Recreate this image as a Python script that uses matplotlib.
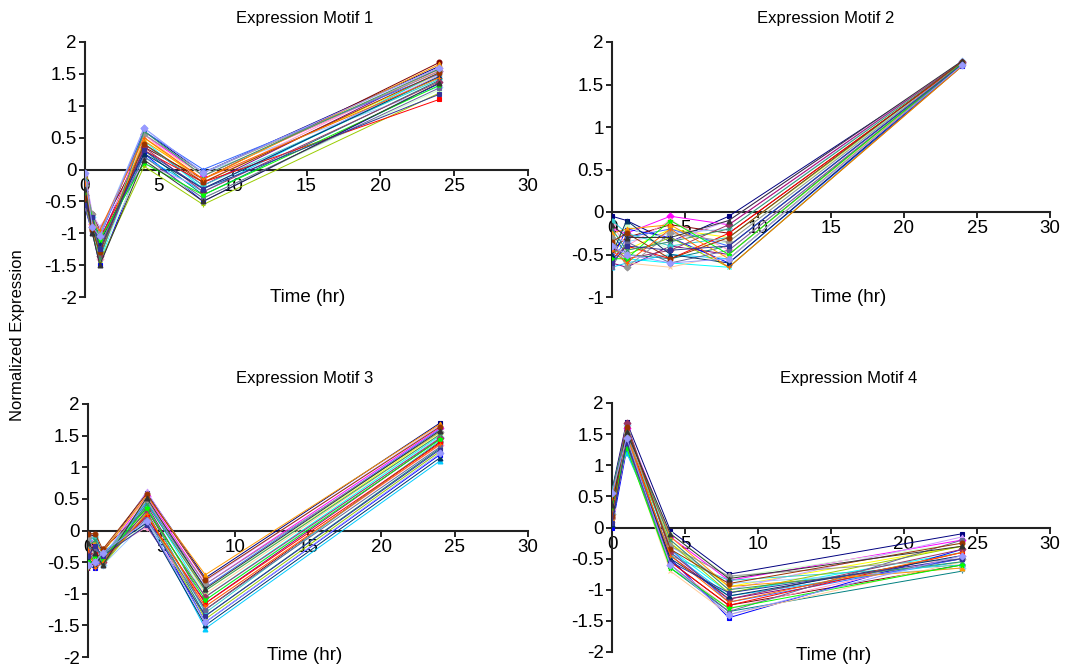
import matplotlib
matplotlib.use("Agg")
import matplotlib.pyplot as plt
from matplotlib.ticker import FuncFormatter

plt.rcParams['font.family'] = ['Liberation Sans', 'DejaVu Sans']

# sampling times (hr)
times_a = [0, 0.5, 1, 4, 8, 24]
times_b = [0, 1, 4, 8, 24]

# motif 1: dip early, peak at 4 h, dip at 8 h, rise by 24 h
motif1 = [
    [-0.10, -0.75, -1.05, 0.60, -0.05, 1.62],
    [-0.20, -0.85, -1.20, 0.55, -0.10, 1.55],
    [-0.35, -0.90, -1.30, 0.50, -0.20, 1.50],
    [-0.50, -0.95, -1.45, 0.45, -0.30, 1.45],
    [-0.55, -0.80, -1.10, 0.40, -0.25, 1.58],
    [-0.45, -0.70, -0.95, 0.35, -0.15, 1.68],
    [-0.30, -0.95, -1.25, 0.30, -0.40, 1.40],
    [-0.60, -1.00, -1.50, 0.25, -0.50, 1.35],
    [-0.15, -0.85, -1.15, 0.20, -0.35, 1.52],
    [-0.40, -0.75, -1.00, 0.65, -0.05, 1.30],
    [-0.25, -0.90, -1.35, 0.15, -0.45, 1.25],
    [-0.50, -0.85, -1.40, 0.55, -0.20, 1.60],
    [-0.05, -0.70, -0.90, 0.10, -0.30, 1.48],
    [-0.35, -0.95, -1.20, 0.50, -0.10, 1.56],
    [-0.45, -0.80, -1.05, 0.60, 0.00, 1.50],
    [-0.20, -0.75, -1.30, 0.40, -0.25, 1.42],
    [-0.55, -1.00, -1.45, 0.05, -0.55, 1.20],
    [-0.30, -0.85, -1.10, 0.30, -0.20, 1.10],
    [-0.10, -0.80, -1.25, 0.45, -0.15, 1.65],
    [-0.40, -0.90, -1.35, 0.35, -0.35, 1.38],
    [-0.60, -0.95, -1.20, 0.20, -0.45, 1.28],
    [-0.25, -0.70, -1.00, 0.55, -0.05, 1.54],
    [-0.50, -0.90, -1.15, 0.25, -0.30, 1.46],
    [-0.15, -0.80, -1.40, 0.60, -0.10, 1.58],
    [-0.35, -0.75, -1.10, 0.10, -0.40, 1.32],
    [-0.45, -0.95, -1.30, 0.40, -0.20, 1.52],
    [-0.20, -0.85, -0.95, 0.50, -0.15, 1.44],
    [-0.55, -0.75, -1.25, 0.30, -0.30, 1.18],
    [-0.30, -1.00, -1.50, 0.15, -0.50, 1.36],
    [-0.05, -0.90, -1.05, 0.65, -0.05, 1.60],
]

# motif 2: flat and low until 8 h, then all up to ~1.75
motif2 = [
    [-0.05, -0.10, -0.35, -0.05, 1.75],
    [-0.20, -0.25, -0.05, -0.15, 1.77],
    [-0.35, -0.45, -0.20, -0.30, 1.74],
    [-0.50, -0.55, -0.60, -0.65, 1.73],
    [-0.60, -0.65, -0.40, -0.50, 1.76],
    [-0.45, -0.30, -0.15, -0.25, 1.75],
    [-0.25, -0.50, -0.55, -0.40, 1.74],
    [-0.55, -0.20, -0.30, -0.60, 1.72],
    [-0.65, -0.60, -0.50, -0.55, 1.75],
    [-0.30, -0.35, -0.25, -0.20, 1.78],
    [-0.40, -0.15, -0.45, -0.35, 1.76],
    [-0.15, -0.40, -0.10, -0.45, 1.74],
    [-0.50, -0.45, -0.35, -0.10, 1.77],
    [-0.35, -0.60, -0.65, -0.50, 1.73],
    [-0.60, -0.30, -0.20, -0.40, 1.75],
    [-0.10, -0.25, -0.40, -0.30, 1.76],
    [-0.45, -0.50, -0.30, -0.65, 1.72],
    [-0.55, -0.40, -0.55, -0.25, 1.75],
    [-0.25, -0.20, -0.15, -0.55, 1.74],
    [-0.40, -0.55, -0.45, -0.15, 1.77],
    [-0.65, -0.35, -0.60, -0.45, 1.73],
    [-0.30, -0.65, -0.25, -0.35, 1.75],
    [-0.50, -0.10, -0.50, -0.60, 1.74],
    [-0.20, -0.45, -0.35, -0.20, 1.76],
    [-0.55, -0.55, -0.10, -0.50, 1.75],
    [-0.35, -0.25, -0.55, -0.30, 1.77],
    [-0.45, -0.60, -0.20, -0.65, 1.72],
    [-0.60, -0.40, -0.45, -0.40, 1.74],
    [-0.15, -0.30, -0.30, -0.10, 1.78],
    [-0.40, -0.50, -0.60, -0.55, 1.73],
]

# motif 3: small peak at 4 h, deep dip at 8 h, rise by 24 h
motif3 = [
    [-0.05, -0.10, -0.35, 0.60, -0.75, 1.70],
    [-0.15, -0.30, -0.45, 0.55, -0.85, 1.62],
    [-0.30, -0.45, -0.50, 0.50, -0.95, 1.55],
    [-0.50, -0.55, -0.40, 0.45, -1.05, 1.50],
    [-0.60, -0.50, -0.55, 0.40, -1.15, 1.45],
    [-0.40, -0.20, -0.30, 0.35, -1.25, 1.40],
    [-0.20, -0.35, -0.45, 0.30, -1.35, 1.30],
    [-0.55, -0.60, -0.50, 0.25, -1.45, 1.20],
    [-0.10, -0.15, -0.35, 0.20, -1.55, 1.10],
    [-0.35, -0.40, -0.55, 0.15, -1.10, 1.48],
    [-0.45, -0.30, -0.40, 0.10, -0.95, 1.58],
    [-0.25, -0.50, -0.35, 0.05, -1.20, 1.35],
    [-0.05, -0.25, -0.45, 0.62, -0.80, 1.66],
    [-0.50, -0.45, -0.30, 0.50, -1.00, 1.52],
    [-0.30, -0.55, -0.50, 0.45, -0.90, 1.60],
    [-0.15, -0.10, -0.40, 0.38, -1.30, 1.42],
    [-0.60, -0.40, -0.55, 0.28, -1.40, 1.25],
    [-0.40, -0.35, -0.45, 0.22, -1.15, 1.38],
    [-0.20, -0.20, -0.35, 0.55, -0.70, 1.68],
    [-0.35, -0.50, -0.50, 0.32, -1.05, 1.46],
    [-0.55, -0.30, -0.40, 0.18, -1.25, 1.32],
    [-0.10, -0.45, -0.45, 0.48, -0.85, 1.56],
    [-0.45, -0.55, -0.35, 0.12, -1.50, 1.15],
    [-0.25, -0.15, -0.55, 0.42, -0.95, 1.52],
    [-0.50, -0.40, -0.45, 0.35, -1.10, 1.44],
    [-0.05, -0.05, -0.30, 0.58, -0.78, 1.64],
    [-0.30, -0.60, -0.50, 0.26, -1.20, 1.36],
    [-0.40, -0.25, -0.40, 0.08, -1.35, 1.28],
    [-0.20, -0.35, -0.55, 0.52, -0.92, 1.58],
    [-0.55, -0.50, -0.35, 0.15, -1.45, 1.22],
]

# motif 4: early spike at 1 h, then down and slow recovery
motif4 = [
    [0.60, 1.70, -0.05, -0.75, -0.10],
    [0.50, 1.60, -0.15, -0.85, -0.20],
    [0.45, 1.55, -0.25, -0.95, -0.30],
    [0.35, 1.50, -0.35, -1.05, -0.40],
    [0.25, 1.45, -0.45, -1.15, -0.50],
    [0.15, 1.40, -0.55, -1.25, -0.60],
    [0.05, 1.35, -0.65, -1.35, -0.70],
    [0.00, 1.25, -0.50, -1.45, -0.35],
    [0.62, 1.20, -0.40, -1.10, -0.55],
    [0.40, 1.65, -0.30, -0.90, -0.65],
    [0.55, 1.50, -0.10, -0.80, -0.25],
    [0.30, 1.42, -0.60, -1.30, -0.45],
    [0.20, 1.58, -0.20, -1.00, -0.15],
    [0.10, 1.30, -0.70, -1.40, -0.55],
    [0.48, 1.62, -0.35, -1.20, -0.50],
    [0.38, 1.48, -0.45, -0.85, -0.60],
    [0.58, 1.38, -0.25, -1.05, -0.30],
    [0.28, 1.55, -0.55, -1.25, -0.40],
    [0.12, 1.45, -0.15, -0.95, -0.65],
    [0.52, 1.68, -0.40, -1.15, -0.35],
    [0.42, 1.32, -0.60, -1.35, -0.20],
    [0.22, 1.52, -0.30, -0.78, -0.50],
    [0.05, 1.40, -0.50, -1.10, -0.45],
    [0.60, 1.57, -0.20, -1.00, -0.55],
    [0.32, 1.28, -0.65, -1.30, -0.60],
    [0.18, 1.62, -0.35, -0.90, -0.25],
    [0.45, 1.46, -0.45, -1.20, -0.40],
    [0.08, 1.36, -0.55, -1.05, -0.50],
    [0.36, 1.53, -0.10, -0.82, -0.30],
    [0.55, 1.44, -0.60, -1.40, -0.45],
]

# spreadsheet-style series colours and markers
colors = ["#000080", "#FF00FF", "#FFFF00", "#00FFFF", "#800080", "#800000",
          "#008080", "#0000FF", "#00CCFF", "#99CCFF", "#CCFFCC", "#FF99CC",
          "#CC99FF", "#FFCC99", "#3366FF", "#33CCCC", "#99CC00", "#FF0000",
          "#FF9900", "#993366", "#666699", "#969696", "#003366", "#339966",
          "#00FF00", "#993300", "#FF6600", "#333399", "#333333", "#9999FF"]
markers = ["s", "D", "^", "x", "*", "o", "+", "s", "^", "D"]

W, H = 1074, 670
fig = plt.figure(figsize=(W / 100, H / 100), dpi=100)


def px_box(x0, x1, ytop, ybot):
    return [x0 / W, 1 - ybot / H, (x1 - x0) / W, (ybot - ytop) / H]


panels = [
    # data, times, ylim, axes box (px), title pos, xlabel pos
    (motif1, times_a, (-2, 2), px_box(85, 528, 42, 297), (305, 18), (308, 297), "Expression Motif 1"),
    (motif2, times_b, (-1, 2), px_box(612, 1050, 42, 297), (826, 18), (849, 297), "Expression Motif 2"),
    (motif3, times_a, (-2, 2), px_box(88, 528, 404, 657), (305, 378), (305, 655), "Expression Motif 3"),
    (motif4, times_b, (-2, 2), px_box(612, 1050, 403, 652), (849, 378), (834, 655), "Expression Motif 4"),
]

fmt = FuncFormatter(lambda v, pos: "%g" % v)

for data, times, ylim, box, tpos, lpos, title in panels:
    ax = fig.add_axes(box)
    for i, row in enumerate(data):
        ax.plot(times, row, color=colors[i % len(colors)], lw=0.7,
                marker=markers[i % len(markers)], ms=3.5, mew=0.8, zorder=3)
    ax.set_xlim(0, 30)
    ax.set_ylim(*ylim)
    ax.set_xticks(range(0, 31, 5))
    ax.set_yticks([v / 2 for v in range(int(ylim[0] * 2), int(ylim[1] * 2) + 1)])
    ax.yaxis.set_major_formatter(fmt)
    ax.spines['top'].set_visible(False)
    ax.spines['right'].set_visible(False)
    ax.spines['bottom'].set_position(('data', 0))
    ax.spines['bottom'].set_linewidth(1.5)
    ax.spines['left'].set_linewidth(1.5)
    ax.spines['bottom'].set_color('#222222')
    ax.spines['left'].set_color('#222222')
    ax.tick_params(direction='out', length=4, width=1.2, labelsize=13.5, pad=2)
    ax.patch.set_alpha(0)
    fig.text(tpos[0] / W, 1 - tpos[1] / H, title, ha='center', va='center', fontsize=12)
    fig.text(lpos[0] / W, 1 - lpos[1] / H, "Time (hr)", ha='center', va='center', fontsize=13.5)

fig.text(18 / W, 0.5, "Normalized Expression", rotation=90, ha='center', va='center', fontsize=12)

fig.savefig("out.png", dpi=100)
